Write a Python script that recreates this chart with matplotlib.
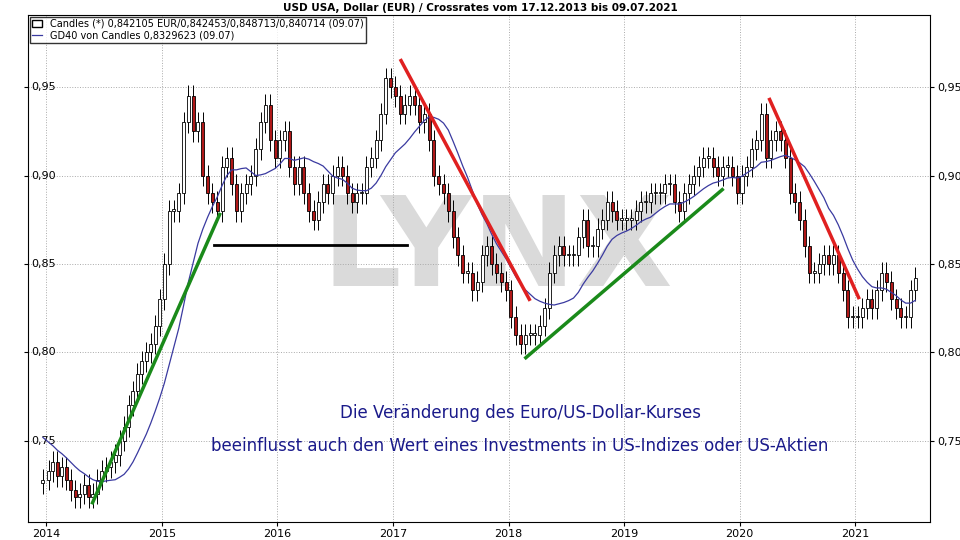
import numpy as np
import matplotlib
matplotlib.use("Agg")
import matplotlib.pyplot as plt
from matplotlib.patches import Patch
from matplotlib.lines import Line2D

# biweekly closes per year
c2013 = [0.728]
c2014 = [0.733,0.738,0.730,0.735,0.728,0.722,0.718,0.720,0.725,0.718,0.720,0.728,0.733,
         0.735,0.738,0.742,0.750,0.758,0.770,0.778,0.788,0.795,0.800,0.805,0.815,0.830]
c2015 = [0.850,0.880,0.880,0.890,0.930,0.945,0.925,0.930,0.900,0.890,0.885,0.880,0.905,
         0.910,0.895,0.880,0.890,0.895,0.900,0.915,0.930,0.940,0.920,0.910]
c2016 = [0.920,0.925,0.905,0.895,0.905,0.890,0.880,0.875,0.885,0.895,0.890,0.900,0.905,
         0.900,0.890,0.885,0.890,0.890,0.905,0.910,0.920,0.935,0.955,0.950]
c2017 = [0.945,0.935,0.940,0.945,0.940,0.930,0.935,0.920,0.900,0.895,0.890,0.880,0.865,
         0.855,0.845,0.845,0.835,0.840,0.855,0.860,0.850,0.845,0.840,0.835]
c2018 = [0.820,0.810,0.805,0.810,0.810,0.810,0.815,0.825,0.845,0.855,0.860,0.855,0.855,
         0.855,0.865,0.875,0.860,0.860,0.870,0.875,0.885,0.880,0.875,0.875]
c2019 = [0.875,0.875,0.880,0.885,0.885,0.890,0.890,0.890,0.895,0.895,0.885,0.880,0.890,
         0.895,0.900,0.905,0.910,0.910,0.905,0.900,0.905,0.905,0.900,0.890]
c2020 = [0.900,0.905,0.915,0.920,0.935,0.910,0.920,0.925,0.920,0.910,0.890,0.885,0.875,
         0.860,0.845,0.845,0.850,0.855,0.850,0.855,0.845,0.835,0.820,0.820]
c2021 = [0.820,0.825,0.830,0.825,0.835,0.845,0.840,0.830,0.825,0.820,0.820,0.835,0.842]
years = [2013, 2014, 2015, 2016, 2017, 2018, 2019, 2020, 2021]
segments = [c2013, c2014, c2015, c2016, c2017, c2018, c2019, c2020, c2021]
# closes before the chart start (for the moving average)
prev = [0.770,0.768,0.765,0.762,0.760,0.757,0.754,0.751,0.748,0.745,0.742,0.740,0.737]

t, closes = [], []
for y, seg in zip(years, segments):
    if y == 2013:
        t += [2013.97]; closes += seg; continue
    k = len(seg)
    step = 1.0 / 24 if k <= 24 else 1.0 / k
    t += [y + step * (i + 0.5) for i in range(k)]
    closes += seg
t = np.array(t); closes = np.array(closes)
n = len(closes)
opens = np.concatenate([[0.726], closes[:-1]])
wick = 0.006
highs = np.maximum(opens, closes) + wick
lows = np.minimum(opens, closes) - wick

win = 14
ext = np.concatenate([prev, closes])
ma = np.array([ext[max(0, i-win+1):i+1].mean() for i in range(len(ext))])[len(prev):]

fig = plt.figure(figsize=(9.6, 5.4), dpi=100)
ax = fig.add_axes([0.029, 0.033, 0.940, 0.940])
w = 0.026
for i in range(n):
    up = closes[i] >= opens[i]
    ax.vlines(t[i], lows[i], highs[i], color='black', lw=0.7, zorder=3)
    b0 = min(opens[i], closes[i]); h = max(abs(closes[i]-opens[i]), 0.0008)
    ax.add_patch(plt.Rectangle((t[i]-w/2, b0), w, h, facecolor='white' if up else '#b01818',
                               edgecolor='black', lw=0.6, zorder=4))
ax.plot(t, ma, color='#3a3aa0', lw=0.9, zorder=5)

ax.plot([2014.4, 2015.5], [0.715, 0.878], color='#1a8a1a', lw=2.5, zorder=6)
ax.plot([2018.15, 2019.85], [0.797, 0.892], color='#1a8a1a', lw=2.5, zorder=6)
ax.plot([2017.07, 2018.18], [0.965, 0.830], color='#e02020', lw=2.5, zorder=6)
ax.plot([2020.26, 2021.03], [0.943, 0.831], color='#e02020', lw=2.5, zorder=6)
ax.plot([2015.45, 2017.12], [0.861, 0.861], color='black', lw=2, zorder=6)

ax.text(2017.9, 0.857, 'LYNX', fontsize=90, fontweight='bold', color='#dadada',
        ha='center', va='center', zorder=1)
ax.text(2018.1, 0.763, 'Die Veränderung des Euro/US-Dollar-Kurses', color='#1a1a8a',
        fontsize=12, ha='center', zorder=7)
ax.text(2018.1, 0.744, 'beeinflusst auch den Wert eines Investments in US-Indizes oder US-Aktien',
        color='#1a1a8a', fontsize=12, ha='center', zorder=7)

ax.set_xlim(2013.84, 2021.65)
ax.set_ylim(0.704, 0.991)
ax.set_xticks(range(2014, 2022))
ax.set_xticklabels([str(y) for y in range(2014, 2022)], fontsize=8)
yt = [0.75, 0.80, 0.85, 0.90, 0.95]
ax.set_yticks(yt)
ax.set_yticklabels([f'{v:.2f}'.replace('.', ',') for v in yt], fontsize=8)
ax.tick_params(axis='y', labelleft=False, labelright=True, left=True, right=True, length=3, pad=2)
for v in yt:
    ax.text(0.004, v, f'{v:.2f}'.replace('.', ','), transform=ax.get_yaxis_transform(),
            fontsize=8, ha='left', va='center')
ax.tick_params(axis='x', length=3, pad=2)
ax.grid(True, color='#aaaaaa', ls=':', lw=0.7)
for s in ax.spines.values(): s.set_linewidth(0.8)
fig.text(0.5, 0.995, 'USD USA, Dollar (EUR) / Crossrates vom 17.12.2013 bis 09.07.2021',
         ha='center', va='top', fontsize=7.5, fontweight='bold')
ax.legend([Patch(facecolor='white', edgecolor='black'), Line2D([], [], color='#3a3aa0', lw=0.9)],
          ['Candles (*) 0,842105 EUR/0,842453/0,848713/0,840714 (09.07)',
           'GD40 von Candles 0,8329623 (09.07)'],
          loc='upper left', fontsize=7, frameon=True, fancybox=False, edgecolor='black',
          borderpad=0.25, handlelength=1.0, labelspacing=0.15, borderaxespad=0.2)
fig.savefig('out.png', dpi=100)
